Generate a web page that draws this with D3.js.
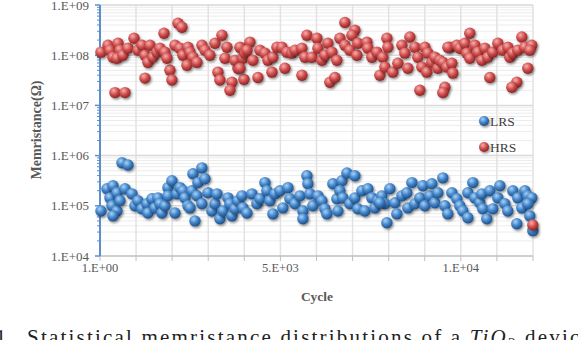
<!DOCTYPE html>
<html>
<head>
<meta charset="utf-8">
<script src="https://cdn.jsdelivr.net/npm/d3@7"></script>
<style>
    body { margin: 0; background: #fff; }
    text { font-family: "Liberation Serif", "Times New Roman", serif; }
</style>
</head>
<body>
<script>
const W = 578, H = 340;

// x ticks (cycles) and labels
const xTicks = [1, 1000, 2000, 3000, 4000, 5000, 6000, 7000, 8000, 9000, 10000, 11000, 12000];
const xLabels = [[1, "1.E+00"], [5000, "5.E+03"], [10000, "1.E+04"]];
const yTicks = [1e4, 1e5, 1e6, 1e7, 1e8, 1e9];
const yLabels = ["1.E+04", "1.E+05", "1.E+06", "1.E+07", "1.E+08", "1.E+09"];

// HRS series
const hrsCycle = [28, 222, 277, 360, 499, 554, 471, 637, 776, 416, 693, 942, 1053, 1163, 1247, 1385, 1330, 1468, 1247, 1579,
    1773, 2161, 2271, 1662, 1801, 1939, 1994, 2078, 1856, 2216, 2299, 2438, 2493, 2576, 2410, 2687, 2825, 2909, 3047, 3186,
    3380, 3269, 3324, 3518, 3463, 3657, 3601, 3823, 3740, 3934, 3961, 3989, 3878, 4017, 4155, 4072, 4238, 3878, 4377, 4432,
    4571, 4654, 4765, 4792, 4903, 5042, 5125, 5180, 5319, 5402, 5596, 5596, 5679, 5734, 5873, 6011, 6039, 6150, 6316, 6233,
    6427, 6565, 6371, 6510, 6648, 6787, 6925, 6787, 7064, 6981, 7120, 7147, 7396, 7424, 7535, 7673, 7756, 7839, 7895, 7950,
    7978, 8116, 8255, 8366, 8449, 8532, 8587, 8726, 8809, 8920, 9003, 9058, 9086, 9197, 9280, 9363, 9418, 9501, 9612, 9695,
    9751, 9778, 8864, 9557, 9501, 9640, 9889, 9972, 10111, 10249, 10166, 10249, 10388, 10471, 10582, 10665, 10748, 10803, 10886, 11025,
    11163, 11302, 11357, 11440, 11551, 11413, 11579, 11690, 11773, 11856, 11967, 11911, 11995];
const hrsValue = [1.15e8, 1.58e8, 1.26e8, 9.1e7, 1.73e8, 1.26e8, 8.7e7, 1.0e8, 1.38e8, 1.8e7, 1.8e7, 2.18e8, 1.26e8, 1.58e8, 1.0e8, 1.58e8, 7.2e7, 9.1e7, 3.5e7, 1.15e8,
    2.74e8, 4.34e8, 3.6e8, 1.38e8, 1.15e8, 5.0e7, 3.2e7, 1.58e8, 8.7e7, 1.38e8, 1.0e8, 1.44e8, 1.15e8, 9.1e7, 6.3e7, 7.2e7, 1.58e8, 1.26e8, 1.0e8, 1.73e8,
    2.5e8, 4.6e7, 3.2e7, 1.44e8, 8.7e7, 2.9e7, 2.0e7, 5.5e7, 7.9e7, 1.38e8, 8.7e7, 3.3e7, 1.44e8, 1.1e8, 1.82e8, 1.26e8, 7.9e7, 5.5e7, 3.6e7, 1.26e8,
    1.1e8, 7.9e7, 4.6e7, 9.1e7, 1.44e8, 1.44e8, 5.5e7, 1.15e8, 1.1e8, 1.26e8, 1.38e8, 4.0e7, 9.1e7, 2.5e8, 9.1e7, 2.18e8, 1.38e8, 7.9e7, 1.73e8, 1.0e8,
    1.15e8, 7.9e7, 2.9e7, 3.6e7, 2.18e8, 1.58e8, 1.26e8, 4.5e8, 3.15e8, 2.5e8, 1.0e8, 1.73e8, 1.82e8, 1.38e8, 9.1e7, 1.15e8, 4.0e7, 9.1e7, 5.8e7, 2.18e8,
    1.44e8, 4.6e7, 6.9e7, 1.58e8, 1.1e8, 5.5e7, 2.3e8, 1.44e8, 9.1e7, 5.8e7, 1.44e8, 4.6e7, 1.1e8, 7.2e7, 9.1e7, 5.5e7, 7.9e7, 7.2e7, 5.8e7, 1.44e8,
    6.9e7, 4.4e7, 2.0e7, 2.3e7, 1.8e7, 1.44e8, 1.58e8, 1.38e8, 1.73e8, 2.74e8, 1.1e8, 8.7e7, 1.58e8, 1.15e8, 7.9e7, 1.38e8, 9.1e7, 3.6e7, 1.15e8, 1.73e8,
    1.26e8, 1.44e8, 9.1e7, 1.1e8, 2.9e7, 2.3e7, 1.26e8, 2.3e8, 1.44e8, 5.5e7, 1.58e8, 1.26e8, 4.15e4];

// LRS series
const lrsCycle = [28, 194, 277, 360, 471, 332, 471, 360, 554, 693, 886, 609, 776, 970, 1053, 1163, 1302, 1330, 1441, 1524,
    1607, 1662, 1717, 1801, 1884, 1994, 1884, 2078, 2133, 2216, 2299, 2355, 2438, 2493, 2549, 2576, 2687, 2715, 2825, 2909,
    2632, 2825, 2992, 3102, 3186, 3241, 3324, 3407, 3546, 3601, 3657, 3740, 3823, 3934, 3961, 4072, 4211, 4349, 4432, 4571,
    4626, 4709, 4792, 4848, 4986, 5069, 5208, 5263, 5402, 5540, 5623, 5623, 5734, 5762, 5817, 5900, 6039, 6150, 6233, 6288,
    6454, 6565, 6593, 6704, 6648, 6731, 6842, 7064, 6925, 7064, 7147, 7258, 7341, 7424, 7535, 7618, 7701, 7812, 7895, 7950,
    7756, 8033, 8172, 8227, 8366, 8504, 8532, 8643, 8726, 8864, 8947, 9003, 9141, 9197, 9280, 9363, 9501, 9557, 9640, 9751,
    9889, 9972, 10055, 10194, 10194, 10332, 10388, 10526, 10582, 10609, 10720, 10803, 10886, 11025, 11080, 11219, 11302, 11440, 11551, 11579,
    11690, 11773, 11856, 11967, 11856, 11911, 11995];
const lrsValue = [7.9e4, 2.18e5, 1.44e5, 2.5e5, 1.82e5, 1.0e5, 7.9e4, 6.3e4, 1.26e5, 2.18e5, 1.73e5, 7.2e5, 6.5e5, 1.0e5, 1.26e5, 8.7e4, 1.1e5, 7.2e4, 1.38e5, 9.1e4,
    1.44e5, 1.1e5, 7.2e4, 1.0e5, 2.3e5, 3.15e5, 1.58e5, 7.2e4, 1.73e5, 2.3e5, 2.0e5, 1.44e5, 1.0e5, 9.1e4, 2.0e5, 4.34e5, 1.58e5, 2.9e5, 5.7e5, 3.45e5,
    5.0e4, 1.1e5, 1.82e5, 7.9e4, 1.1e5, 1.73e5, 5.5e4, 7.9e4, 1.44e5, 1.1e5, 6.3e4, 8.7e4, 1.26e5, 1.58e5, 9.1e4, 7.2e4, 1.73e5, 1.1e5, 1.38e5, 2.9e5,
    2.0e5, 1.26e5, 6.9e4, 1.73e5, 2.0e5, 9.1e4, 2.3e5, 1.38e5, 1.1e5, 1.58e5, 7.9e4, 5.5e4, 3.96e5, 2.74e5, 1.73e5, 1.0e5, 1.58e5, 1.26e5, 8.7e4, 6.9e4,
    2.74e5, 1.38e5, 7.9e4, 3.15e5, 2.0e5, 1.44e5, 4.5e5, 3.96e5, 1.1e5, 1.44e5, 8.7e4, 2.0e5, 7.9e4, 2.18e5, 1.44e5, 9.1e4, 1.26e5, 1.58e5, 1.1e5, 4.6e4,
    1.15e5, 2.18e5, 1.15e5, 6.9e4, 1.58e5, 1.82e5, 9.1e4, 2.9e5, 1.1e5, 1.44e5, 2.5e5, 1.0e5, 1.58e5, 2.74e5, 1.15e5, 1.82e5, 3.6e5, 1.0e5, 6.9e4, 1.82e5,
    1.38e5, 1.0e5, 7.9e4, 1.82e5, 5.8e4, 2.9e5, 1.44e5, 1.15e5, 1.73e5, 8.7e4, 5.5e4, 2.0e5, 8.7e4, 1.44e5, 2.5e5, 1.1e5, 7.9e4, 2.0e5, 4.4e4, 1.44e5,
    9.1e4, 2.0e5, 1.58e5, 1.44e5, 1.1e5, 6.3e4, 3.2e4];

const svg = d3.select("body")
    .append("svg")
    .attr("width", W)
    .attr("height", H);

const x = d3.scaleLinear().domain([1, 12000]).range([100, 533]);
const y = d3.scaleLog().domain([1e4, 1e9]).range([256, 5]);

// gradients for the 3d balls
const defs = svg.append("defs");
function ball(id, light, base, dark) {
    const g = defs.append("radialGradient")
        .attr("id", id)
        .attr("cx", "38%").attr("cy", "32%").attr("r", "68%");
    g.append("stop").attr("offset", "0%").attr("stop-color", light);
    g.append("stop").attr("offset", "55%").attr("stop-color", base);
    g.append("stop").attr("offset", "100%").attr("stop-color", dark);
}
ball("gBlue", "#a9d2f5", "#3f82c8", "#1f4f86");
ball("gRed", "#f6b0ad", "#cf4b4b", "#8a2626");

const shadow = defs.append("filter").attr("id", "shade")
    .attr("x", "-50%").attr("y", "-50%").attr("width", "200%").attr("height", "200%");
shadow.append("feDropShadow")
    .attr("dx", 1.2).attr("dy", 1.5).attr("stdDeviation", 0.9)
    .attr("flood-color", "#000").attr("flood-opacity", 0.45);

// minor horizontal grid
const minor = [];
for (let e = 4; e < 9; e++) {
    for (let m = 2; m <= 9; m++) minor.push(m * Math.pow(10, e));
}
svg.append("g").selectAll("line").data(minor).join("line")
    .attr("x1", 100).attr("x2", 533)
    .attr("y1", d => y(d)).attr("y2", d => y(d))
    .style("stroke", "#ececec").style("stroke-width", 1);

// vertical grid
svg.append("g").selectAll("line").data(xTicks.slice(1)).join("line")
    .attr("x1", d => x(d)).attr("x2", d => x(d))
    .attr("y1", 5).attr("y2", 256)
    .style("stroke", "#e2e2e2").style("stroke-width", 1.5);

// major horizontal grid
svg.append("g").selectAll("line").data(yTicks.slice(1)).join("line")
    .attr("x1", 100).attr("x2", 533)
    .attr("y1", d => y(d)).attr("y2", d => y(d))
    .style("stroke", "#d9d9d9").style("stroke-width", 1.5);

// x axis
const xAxis = svg.append("g");
xAxis.append("line")
    .attr("x1", 100).attr("x2", 533).attr("y1", 256).attr("y2", 256)
    .style("stroke", "#bfbfbf").style("stroke-width", 1.5);
xAxis.selectAll("line.tk").data(xTicks).join("line")
    .attr("class", "tk")
    .attr("x1", d => x(d)).attr("x2", d => x(d))
    .attr("y1", 256).attr("y2", 261)
    .style("stroke", "#bfbfbf");
xAxis.selectAll("text").data(xLabels).join("text")
    .attr("x", d => x(d[0]))
    .attr("y", 272)
    .attr("text-anchor", "middle")
    .text(d => d[1])
    .style("font-size", "12.5px")
    .style("fill", "#595959");

// y axis
const yAxis = svg.append("g");
yAxis.selectAll("line.mn").data(minor).join("line")
    .attr("class", "mn")
    .attr("x1", 97).attr("x2", 100)
    .attr("y1", d => y(d)).attr("y2", d => y(d))
    .style("stroke", "#5b8fcc");
yAxis.selectAll("line.mj").data(yTicks).join("line")
    .attr("class", "mj")
    .attr("x1", 95).attr("x2", 100)
    .attr("y1", d => y(d)).attr("y2", d => y(d))
    .style("stroke", "#5b8fcc").style("stroke-width", 1.5);
yAxis.append("line")
    .attr("x1", 100).attr("x2", 100).attr("y1", 5).attr("y2", 256)
    .style("stroke", "#5b8fcc").style("stroke-width", 2);
yAxis.selectAll("text").data(yTicks).join("text")
    .attr("x", 89)
    .attr("y", d => y(d) + 4.5)
    .attr("text-anchor", "end")
    .text((d, i) => yLabels[i])
    .style("font-size", "13px")
    .style("fill", "#595959");

// points
function series(cyc, val, grad) {
    svg.append("g").selectAll("circle").data(cyc).join("circle")
        .attr("cx", d => x(d))
        .attr("cy", (d, i) => y(val[i]))
        .attr("r", 5.7)
        .attr("fill", "url(#" + grad + ")")
        .attr("filter", "url(#shade)");
}
series(lrsCycle, lrsValue, "gBlue");
series(hrsCycle, hrsValue, "gRed");

// legend
const legend = [["LRS", "gBlue", 121], ["HRS", "gRed", 147]];
legend.forEach(function (l) {
    svg.append("circle")
        .attr("cx", 484).attr("cy", l[2]).attr("r", 5)
        .attr("fill", "url(#" + l[1] + ")")
        .attr("filter", "url(#shade)");
    svg.append("text")
        .attr("x", 490).attr("y", l[2] + 5)
        .text(l[0])
        .style("font-size", "13.5px")
        .style("fill", "#404040");
});

// axis titles
svg.append("text")
    .attr("transform", "translate(41,130) rotate(-90)")
    .attr("text-anchor", "middle")
    .text("Memristance(Ω)")
    .style("font-size", "14px")
    .style("font-weight", "bold")
    .style("fill", "#595959");
svg.append("text")
    .attr("x", 317).attr("y", 301)
    .attr("text-anchor", "middle")
    .text("Cycle")
    .style("font-size", "13.5px")
    .style("font-weight", "bold")
    .style("fill", "#595959");

// caption, cut at the bottom edge
svg.append("text")
    .attr("x", 6).attr("y", 344)
    .attr("text-anchor", "end")
    .text("Fig. 1")
    .style("font-size", "21px")
    .style("fill", "#222");
const cap = svg.append("text")
    .attr("x", 27).attr("y", 344)
    .style("font-size", "21px")
    .style("letter-spacing", "2.2px")
    .style("fill", "#222");
cap.append("tspan").text("Statistical memristance distributions of a ");
cap.append("tspan").text("TiO").style("font-style", "italic");
cap.append("tspan").text("2").attr("dy", 4).style("font-size", "15px");
cap.append("tspan").text(" device").attr("dy", -4);
</script>
</body>
</html>
